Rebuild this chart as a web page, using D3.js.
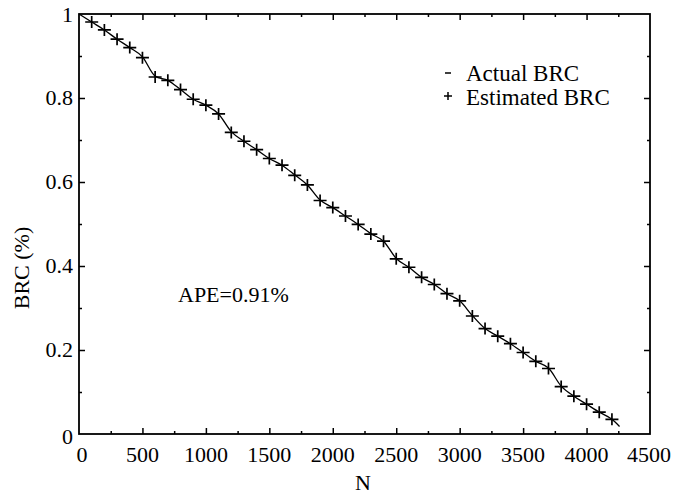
<!DOCTYPE html>
<html>
<head>
<meta charset="utf-8">
<script src="https://cdn.jsdelivr.net/npm/d3@7"></script>
<style>
  html, body { margin: 0; padding: 0; background: #fff; }
  svg { display: block; }
  text { font-family: "Liberation Serif", "Times New Roman", serif; fill: #000; }
</style>
</head>
<body>
<svg id="chart" width="674" height="496"></svg>
<script>
// ---- data ----
const estN = [100,200,300,400,500,600,700,800,900,1000,1100,1200,1300,1400,1500,1600,1700,1800,1900,2000,2100,2200,2300,2400,2500,2600,2700,2800,2900,3000,3100,3200,3300,3400,3500,3600,3700,3800,3900,4000,4100,4200];
const estBRC = [0.981,0.962,0.940,0.920,0.896,0.850,0.842,0.820,0.797,0.783,0.762,0.718,0.697,0.677,0.656,0.640,0.616,0.593,0.556,0.539,0.519,0.499,0.476,0.459,0.417,0.397,0.373,0.356,0.334,0.317,0.281,0.251,0.233,0.215,0.194,0.173,0.156,0.113,0.090,0.071,0.052,0.035];
const actN = [0,100,200,300,400,500,600,700,800,900,1000,1100,1200,1300,1400,1500,1600,1700,1800,1900,2000,2100,2200,2300,2400,2500,2600,2700,2800,2900,3000,3100,3200,3300,3400,3500,3600,3700,3800,3900,4000,4100,4200,4260];
const actBRC = [1.0,0.981,0.962,0.940,0.920,0.898,0.852,0.842,0.820,0.797,0.783,0.762,0.720,0.697,0.677,0.656,0.640,0.617,0.593,0.557,0.539,0.519,0.499,0.477,0.459,0.418,0.397,0.373,0.356,0.334,0.317,0.282,0.251,0.233,0.215,0.194,0.173,0.157,0.114,0.090,0.071,0.052,0.035,0.018];
const xTicks = [0,500,1000,1500,2000,2500,3000,3500,4000,4500];
const yTicks = [0,0.2,0.4,0.6,0.8,1];
const yTickLabels = ["0","0.2","0.4","0.6","0.8","1"];
const legendLabels = ["Actual BRC","Estimated BRC"];
const annotation = "APE=0.91%";

// ---- layout ----
const L = 79, R = 650, T = 14, B = 434;
const svg = d3.select("#chart");
const x = d3.scaleLinear().domain([0,4500]).range([L,R]);
const y = d3.scaleLinear().domain([0,1]).range([B,T]);
const FS = 22;

// frame
svg.append("rect").attr("x",L).attr("y",T).attr("width",R-L).attr("height",B-T)
  .attr("fill","none").attr("stroke","#000").attr("stroke-width",1.8);

// ticks (inward) using d3 axes
const majorLen = 6, minorLen = 3;
const xMinor = d3.range(250, 4500, 500);
const yMinor = d3.range(0.1, 1, 0.2);

function tickAxis(axisGen, transform, tv, len) {
  const g = svg.append("g").attr("transform", transform)
    .call(axisGen.tickValues(tv).tickSize(len).tickFormat(""));
  g.select(".domain").remove();
  g.selectAll("line").attr("stroke","#000").attr("stroke-width",1.5);
  return g;
}
tickAxis(d3.axisTop(x), `translate(0,${B})`, xTicks.slice(1,-1), majorLen);
tickAxis(d3.axisTop(x), `translate(0,${B})`, xMinor, minorLen);
tickAxis(d3.axisBottom(x), `translate(0,${T})`, xTicks.slice(1,-1), majorLen);
tickAxis(d3.axisBottom(x), `translate(0,${T})`, xMinor, minorLen);
tickAxis(d3.axisRight(y), `translate(${L},0)`, yTicks.slice(1,-1), majorLen);
tickAxis(d3.axisRight(y), `translate(${L},0)`, yMinor, minorLen);
tickAxis(d3.axisLeft(y), `translate(${R},0)`, yTicks.slice(1,-1), majorLen);
tickAxis(d3.axisLeft(y), `translate(${R},0)`, yMinor, minorLen);

// tick labels
svg.append("g").selectAll("text").data(xTicks).join("text")
  .attr("x", d => x(d) + (d === 0 ? 3 : 0) - (d === 4500 ? 1 : 0))
  .attr("y", 462)
  .attr("text-anchor","middle")
  .attr("font-size", FS)
  .text(d => String(d));
svg.append("g").selectAll("text").data(yTicks).join("text")
  .attr("x", 73)
  .attr("y", d => y(d) + 7 + (d === 0 ? 3 : 0) + (d === 1 ? 1 : 0))
  .attr("text-anchor","end")
  .attr("font-size", FS)
  .text((d,i) => yTickLabels[i]);

// axis titles
svg.append("text").attr("x", 363).attr("y", 490).attr("text-anchor","middle")
  .attr("font-size", FS).text("N");
svg.append("text").attr("transform","translate(29,268) rotate(-90)")
  .attr("text-anchor","middle").attr("font-size", FS).text("BRC (%)");

// actual line
const line = d3.line().x((d,i) => x(actN[i])).y(d => y(d)).curve(d3.curveMonotoneX);
svg.append("path").datum(actBRC).attr("d", line)
  .attr("fill","none").attr("stroke","#000").attr("stroke-width",1.3);

// estimated markers "+"
const hw = 6.5, hh = 6;
const mk = svg.append("g").attr("stroke","#000").attr("stroke-width",1.7);
mk.selectAll("path").data(estBRC).join("path")
  .attr("d", (d,i) => {
    const cx = x(estN[i]), cy = y(d);
    return `M${cx-hw},${cy}H${cx+hw}M${cx},${cy-hh}V${cy+hh}`;
  });

// legend
const lg = svg.append("g");
lg.append("path").attr("d","M445,73H451").attr("stroke","#000").attr("stroke-width",1.5);
lg.append("path").attr("d","M444,96H452M448,92V100").attr("stroke","#000").attr("stroke-width",1.5);
lg.selectAll("text").data(legendLabels).join("text")
  .attr("x", 466).attr("y", (d,i) => 81 + i*24)
  .attr("font-size", 23).text(d => d);

// annotation
svg.append("text").attr("x", 178).attr("y", 302).attr("font-size", FS).text(annotation);
</script>
</body>
</html>
